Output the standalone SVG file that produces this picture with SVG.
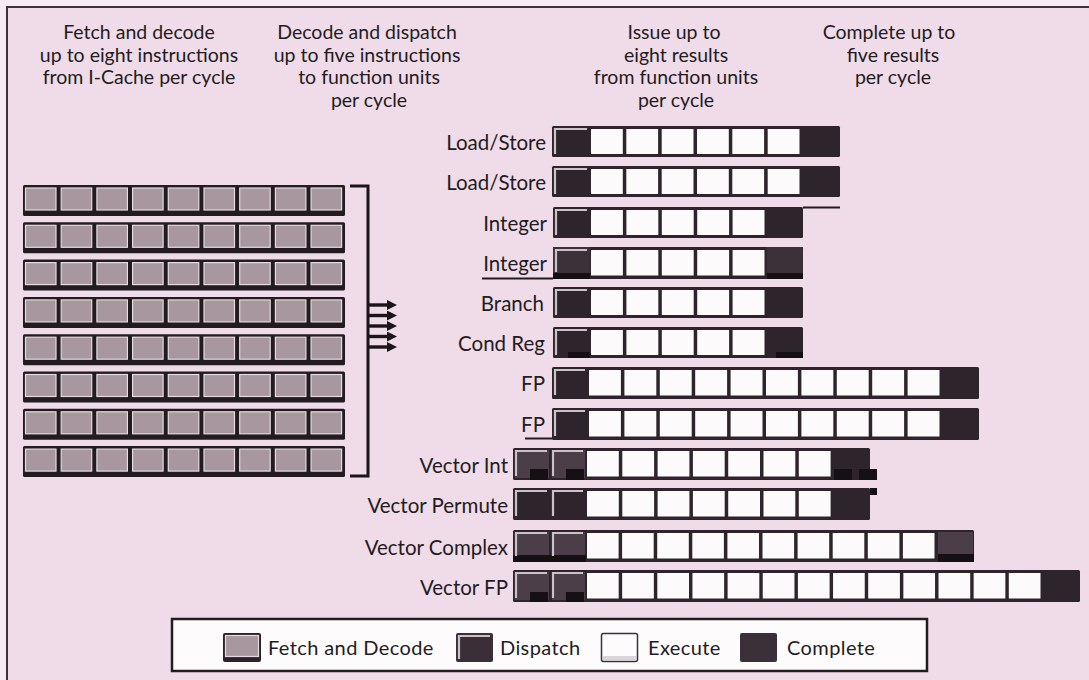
<svg xmlns="http://www.w3.org/2000/svg" xmlns:xlink="http://www.w3.org/1999/xlink" width="1089" height="680" viewBox="0 0 1089 680">
<style>
.t{font-family:Lato,"Open Sans","Liberation Sans",sans-serif;fill:#231c21}
.h{font-size:19.5px;text-anchor:middle}
.lb{font-size:20.5px;text-anchor:end}
.lg{font-size:20px;letter-spacing:0.4px}
.bar{fill:#2e242b}
.vd{fill:#4b3e48}
.blk{fill:#141013}
.ex{fill:#fcfafb}
.bv{fill:none;stroke:#cbc2c8;stroke-width:2.2}
.fc{fill:#a8979f;stroke:#e3dbe1;stroke-width:1.2}
.ln{stroke:#231c21;stroke-width:2;fill:none}
.cn{stroke:#1a1519;stroke-width:3;fill:none}
.ar{stroke:#1a1519;stroke-width:3.4;fill:none}
</style>
<defs>
<marker id="ah" viewBox="0 0 10 10" refX="2" refY="5" markerWidth="11" markerHeight="10" markerUnits="userSpaceOnUse" orient="auto">
<path d="M0,0 L10,5 L0,10 z" fill="#1a1519"/>
</marker>
<g id="frow">
<rect x="23" y="0" width="322" height="31" rx="1.5" fill="#221c20"/>
<rect class="fc" x="25.5" y="3" width="30.5" height="22"/>
<rect class="fc" x="61.2" y="3" width="30.5" height="22"/>
<rect class="fc" x="96.9" y="3" width="30.5" height="22"/>
<rect class="fc" x="132.6" y="3" width="30.5" height="22"/>
<rect class="fc" x="168.3" y="3" width="30.5" height="22"/>
<rect class="fc" x="204" y="3" width="30.5" height="22"/>
<rect class="fc" x="239.7" y="3" width="30.5" height="22"/>
<rect class="fc" x="275.4" y="3" width="30.5" height="22"/>
<rect class="fc" x="311.1" y="3" width="30.5" height="22"/>
</g>
</defs>
<rect x="0" y="0" width="1089" height="680" fill="#f7ebf3"/>
<rect x="7" y="7" width="1082" height="673" fill="#f0dbe8"/>
<path d="M7,680 V7 H1089" stroke="#3b3339" stroke-width="2" fill="none"/>

<g id="headers">
<text class="t h" x="139" y="39">Fetch and decode</text>
<text class="t h" x="139" y="62">up to eight instructions</text>
<text class="t h" x="139" y="84">from I-Cache per cycle</text>
<text class="t h" x="367" y="39">Decode and dispatch</text>
<text class="t h" x="367" y="62">up to five instructions</text>
<text class="t h" x="369" y="84">to function units</text>
<text class="t h" x="369" y="107">per cycle</text>
<text class="t h" x="674" y="39">Issue up to</text>
<text class="t h" x="676" y="62">eight results</text>
<text class="t h" x="676" y="84">from function units</text>
<text class="t h" x="676" y="107">per cycle</text>
<text class="t h" x="889" y="39">Complete up to</text>
<text class="t h" x="893" y="62">five results</text>
<text class="t h" x="893" y="84">per cycle</text>
</g>

<g id="fetch-buffer">
<use xlink:href="#frow" y="185"/>
<use xlink:href="#frow" y="222.3"/>
<use xlink:href="#frow" y="259.6"/>
<use xlink:href="#frow" y="296.9"/>
<use xlink:href="#frow" y="334.2"/>
<use xlink:href="#frow" y="371.5"/>
<use xlink:href="#frow" y="408.8"/>
<use xlink:href="#frow" y="446.1"/>
</g>

<g id="connectors">
<path class="cn" d="M350,186 H368 V476 H350"/>
<path class="ar" d="M368,305 H389" marker-end="url(#ah)"/>
<path class="ar" d="M368,315.5 H389" marker-end="url(#ah)"/>
<path class="ar" d="M368,326 H389" marker-end="url(#ah)"/>
<path class="ar" d="M368,336.5 H389" marker-end="url(#ah)"/>
<path class="ar" d="M368,347 H389" marker-end="url(#ah)"/>
</g>

<g id="loadstore-1">
<text class="t lb" x="546" y="150">Load/Store</text>
<rect class="bar" x="552" y="126" width="288" height="31" rx="1.5"/>
<path class="bv" d="M555,154 V129 H587"/>
<rect class="ex" x="591" y="129" width="31.8" height="25"/>
<rect class="ex" x="626.3" y="129" width="31.8" height="25"/>
<rect class="ex" x="661.7" y="129" width="31.8" height="25"/>
<rect class="ex" x="697" y="129" width="31.8" height="25"/>
<rect class="ex" x="732.3" y="129" width="31.8" height="25"/>
<rect class="ex" x="767.7" y="129" width="31.8" height="25"/>
</g>

<g id="loadstore-2">
<text class="t lb" x="546" y="190">Load/Store</text>
<rect class="bar" x="552" y="166" width="288" height="31" rx="1.5"/>
<path class="bv" d="M555,194 V169 H587"/>
<rect class="ex" x="591" y="169" width="31.8" height="25"/>
<rect class="ex" x="626.3" y="169" width="31.8" height="25"/>
<rect class="ex" x="661.7" y="169" width="31.8" height="25"/>
<rect class="ex" x="697" y="169" width="31.8" height="25"/>
<rect class="ex" x="732.3" y="169" width="31.8" height="25"/>
<rect class="ex" x="767.7" y="169" width="31.8" height="25"/>
</g>

<g id="integer-1">
<text class="t lb" x="547" y="231">Integer</text>
<rect class="bar" x="553" y="207" width="250" height="31" rx="1.5"/>
<path class="ln" d="M803,207.5 H840"/>
<path class="bv" d="M556,235 V210 H587"/>
<rect class="ex" x="591" y="210" width="31.9" height="25"/>
<rect class="ex" x="626.4" y="210" width="31.9" height="25"/>
<rect class="ex" x="661.8" y="210" width="31.9" height="25"/>
<rect class="ex" x="697.2" y="210" width="31.9" height="25"/>
<rect class="ex" x="732.6" y="210" width="31.9" height="25"/>
</g>

<g id="integer-2">
<text class="t lb" x="547" y="271">Integer</text>
<path class="ln" d="M482,278.5 H553"/>
<rect class="bar" x="553" y="247" width="250" height="32" rx="1.5"/>
<rect x="553" y="247" width="37" height="26" fill="#3d3139"/>
<rect x="767" y="247" width="36" height="26" fill="#3d3139"/>
<rect class="blk" x="553" y="273" width="37" height="6"/>
<rect class="blk" x="767" y="273" width="36" height="6"/>
<path class="bv" d="M556,272 V250 H587"/>
<rect class="ex" x="591" y="250" width="31.9" height="25.5"/>
<rect class="ex" x="626.4" y="250" width="31.9" height="25.5"/>
<rect class="ex" x="661.8" y="250" width="31.9" height="25.5"/>
<rect class="ex" x="697.2" y="250" width="31.9" height="25.5"/>
<rect class="ex" x="732.6" y="250" width="31.9" height="25.5"/>
</g>

<g id="branch">
<text class="t lb" x="544" y="311">Branch</text>
<rect class="bar" x="553" y="287" width="250" height="31" rx="1.5"/>
<path class="bv" d="M556,315 V290 H587"/>
<rect class="ex" x="591" y="290" width="31.9" height="25"/>
<rect class="ex" x="626.4" y="290" width="31.9" height="25"/>
<rect class="ex" x="661.8" y="290" width="31.9" height="25"/>
<rect class="ex" x="697.2" y="290" width="31.9" height="25"/>
<rect class="ex" x="732.6" y="290" width="31.9" height="25"/>
</g>

<g id="cond-reg">
<text class="t lb" x="545" y="351">Cond Reg</text>
<rect class="bar" x="553" y="327" width="250" height="31" rx="1.5"/>
<rect class="blk" x="568" y="352" width="22" height="6"/>
<rect class="blk" x="776" y="352" width="27" height="6"/>
<path class="bv" d="M556,355 V330 H587"/>
<rect class="ex" x="591" y="330" width="31.9" height="25"/>
<rect class="ex" x="626.4" y="330" width="31.9" height="25"/>
<rect class="ex" x="661.8" y="330" width="31.9" height="25"/>
<rect class="ex" x="697.2" y="330" width="31.9" height="25"/>
<rect class="ex" x="732.6" y="330" width="31.9" height="25"/>
</g>

<g id="fp-1">
<text class="t lb" x="545" y="391">FP</text>
<rect class="bar" x="552" y="367" width="427" height="32" rx="1.5"/>
<path class="bv" d="M555,395 V370 H585"/>
<rect class="ex" x="589" y="370" width="31.9" height="25.5"/>
<rect class="ex" x="624.4" y="370" width="31.9" height="25.5"/>
<rect class="ex" x="659.8" y="370" width="31.9" height="25.5"/>
<rect class="ex" x="695.2" y="370" width="31.9" height="25.5"/>
<rect class="ex" x="730.6" y="370" width="31.9" height="25.5"/>
<rect class="ex" x="766" y="370" width="31.9" height="25.5"/>
<rect class="ex" x="801.4" y="370" width="31.9" height="25.5"/>
<rect class="ex" x="836.8" y="370" width="31.9" height="25.5"/>
<rect class="ex" x="872.2" y="370" width="31.9" height="25.5"/>
<rect class="ex" x="907.6" y="370" width="31.9" height="25.5"/>
</g>

<g id="fp-2">
<text class="t lb" x="545" y="432">FP</text>
<path class="ln" d="M525,438.5 H552"/>
<rect class="bar" x="552" y="408" width="427" height="32" rx="1.5"/>
<path class="bv" d="M555,436 V411 H585"/>
<rect class="ex" x="589" y="411" width="31.9" height="25.5"/>
<rect class="ex" x="624.4" y="411" width="31.9" height="25.5"/>
<rect class="ex" x="659.8" y="411" width="31.9" height="25.5"/>
<rect class="ex" x="695.2" y="411" width="31.9" height="25.5"/>
<rect class="ex" x="730.6" y="411" width="31.9" height="25.5"/>
<rect class="ex" x="766" y="411" width="31.9" height="25.5"/>
<rect class="ex" x="801.4" y="411" width="31.9" height="25.5"/>
<rect class="ex" x="836.8" y="411" width="31.9" height="25.5"/>
<rect class="ex" x="872.2" y="411" width="31.9" height="25.5"/>
<rect class="ex" x="907.6" y="411" width="31.9" height="25.5"/>
</g>

<g id="vector-int">
<text class="t lb" x="508" y="473">Vector Int</text>
<rect class="bar" x="513" y="448" width="357" height="32" rx="1.5"/>
<rect class="vd" x="515" y="450" width="34" height="28"/>
<rect class="vd" x="552" y="450" width="33" height="28"/>
<rect class="blk" x="530" y="469" width="18" height="11"/>
<rect class="blk" x="566" y="469" width="18" height="11"/>
<rect class="blk" x="834" y="469" width="18" height="11"/>
<rect class="blk" x="859" y="469" width="18" height="11"/>
<path class="bv" d="M516,476 V451 H547"/>
<path class="bv" d="M553,476 V451 H583"/>
<rect class="ex" x="587" y="451" width="31.8" height="25.5"/>
<rect class="ex" x="622.3" y="451" width="31.8" height="25.5"/>
<rect class="ex" x="657.6" y="451" width="31.8" height="25.5"/>
<rect class="ex" x="692.9" y="451" width="31.8" height="25.5"/>
<rect class="ex" x="728.2" y="451" width="31.8" height="25.5"/>
<rect class="ex" x="763.5" y="451" width="31.8" height="25.5"/>
<rect class="ex" x="798.8" y="451" width="31.8" height="25.5"/>
</g>

<g id="vector-permute">
<text class="t lb" x="508" y="513">Vector Permute</text>
<rect class="bar" x="513" y="488" width="357" height="32" rx="1.5"/>
<rect class="blk" x="870" y="488" width="7" height="7"/>
<path class="bv" d="M516,516 V491 H547"/>
<path class="bv" d="M553,516 V491 H583"/>
<rect class="ex" x="587" y="491" width="31.8" height="25.5"/>
<rect class="ex" x="622.3" y="491" width="31.8" height="25.5"/>
<rect class="ex" x="657.6" y="491" width="31.8" height="25.5"/>
<rect class="ex" x="692.9" y="491" width="31.8" height="25.5"/>
<rect class="ex" x="728.2" y="491" width="31.8" height="25.5"/>
<rect class="ex" x="763.5" y="491" width="31.8" height="25.5"/>
<rect class="ex" x="798.8" y="491" width="31.8" height="25.5"/>
</g>

<g id="vector-complex">
<text class="t lb" x="508" y="555">Vector Complex</text>
<rect class="bar" x="513" y="530" width="461" height="32" rx="1.5"/>
<rect class="vd" x="515" y="532" width="34" height="23"/>
<rect class="vd" x="552" y="532" width="33" height="23"/>
<rect class="vd" x="938" y="532" width="35" height="22"/>
<rect class="blk" x="513" y="555" width="73" height="7"/>
<rect class="blk" x="938" y="554" width="36" height="8"/>
<path class="bv" d="M516,556 V533 H547"/>
<path class="bv" d="M553,556 V533 H583"/>
<rect class="ex" x="587" y="533" width="31.6" height="25.5"/>
<rect class="ex" x="622.1" y="533" width="31.6" height="25.5"/>
<rect class="ex" x="657.2" y="533" width="31.6" height="25.5"/>
<rect class="ex" x="692.3" y="533" width="31.6" height="25.5"/>
<rect class="ex" x="727.4" y="533" width="31.6" height="25.5"/>
<rect class="ex" x="762.5" y="533" width="31.6" height="25.5"/>
<rect class="ex" x="797.6" y="533" width="31.6" height="25.5"/>
<rect class="ex" x="832.7" y="533" width="31.6" height="25.5"/>
<rect class="ex" x="867.8" y="533" width="31.6" height="25.5"/>
<rect class="ex" x="902.9" y="533" width="31.6" height="25.5"/>
</g>

<g id="vector-fp">
<text class="t lb" x="508" y="595">Vector FP</text>
<rect class="bar" x="513" y="570" width="567" height="32" rx="1.5"/>
<rect class="vd" x="515" y="572" width="34" height="28"/>
<rect class="vd" x="552" y="572" width="33" height="28"/>
<rect class="blk" x="530" y="592" width="18" height="10"/>
<rect class="blk" x="566" y="592" width="18" height="10"/>
<path class="bv" d="M516,598 V573 H547"/>
<path class="bv" d="M553,598 V573 H583"/>
<rect class="ex" x="587" y="573" width="31.7" height="25.5"/>
<rect class="ex" x="622.15" y="573" width="31.7" height="25.5"/>
<rect class="ex" x="657.3" y="573" width="31.7" height="25.5"/>
<rect class="ex" x="692.45" y="573" width="31.7" height="25.5"/>
<rect class="ex" x="727.6" y="573" width="31.7" height="25.5"/>
<rect class="ex" x="762.75" y="573" width="31.7" height="25.5"/>
<rect class="ex" x="797.9" y="573" width="31.7" height="25.5"/>
<rect class="ex" x="833.05" y="573" width="31.7" height="25.5"/>
<rect class="ex" x="868.2" y="573" width="31.7" height="25.5"/>
<rect class="ex" x="903.35" y="573" width="31.7" height="25.5"/>
<rect class="ex" x="938.5" y="573" width="31.7" height="25.5"/>
<rect class="ex" x="973.65" y="573" width="31.7" height="25.5"/>
<rect class="ex" x="1008.8" y="573" width="31.7" height="25.5"/>
</g>

<g id="legend">
<rect x="172" y="619" width="755" height="52" fill="#fdfbfc" stroke="#231c21" stroke-width="2.5"/>
<rect x="223" y="633" width="38" height="29" rx="2" fill="#2a2227"/>
<rect class="fc" x="225.5" y="635.5" width="33" height="21"/>
<text class="t lg" x="268" y="655">Fetch and Decode</text>
<rect x="456" y="633" width="37" height="29" rx="2" fill="#3a2f37"/>
<path class="bv" d="M459,659 V636 H490"/>
<text class="t lg" x="500" y="655">Dispatch</text>
<rect x="601.5" y="633.5" width="36" height="28" rx="2" fill="#fdfbfc" stroke="#3a3038" stroke-width="1.5"/>
<rect x="603" y="656" width="33" height="4" fill="#ddd3da"/>
<text class="t lg" x="648" y="655">Execute</text>
<rect x="740" y="633" width="37" height="29" rx="2" fill="#3a3038"/>
<text class="t lg" x="787" y="655">Complete</text>
</g>
</svg>
